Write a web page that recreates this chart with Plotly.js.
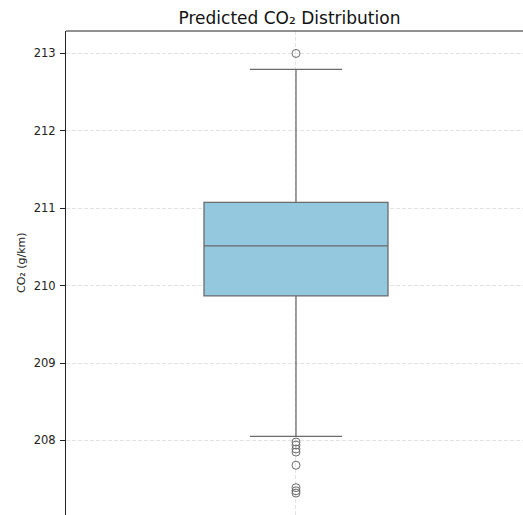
<!DOCTYPE html>
<html>
<head>
<meta charset="utf-8">
<script src="https://cdn.plot.ly/plotly-3.0.1.min.js"></script>
<style>html,body{margin:0;padding:0;background:#fff;}</style>
</head>
<body>
<div id="chart" style="width:523px;height:515px;"></div>
<script>
const categories = [0];
const q1 = [209.867];
const median = [210.513];
const q3 = [211.075];
const lowerFence = [208.052];
const upperFence = [212.795];
const outliers = [213.0, 207.98, 207.94, 207.89, 207.85, 207.68, 207.39, 207.35, 207.32];
const yTicks = [208, 209, 210, 211, 212, 213];

const boxTrace = {
  type: 'box',
  x: categories,
  q1: q1, median: median, q3: q3,
  lowerfence: lowerFence, upperfence: upperFence,
  width: 0.4,
  whiskerwidth: 0.5,
  fillcolor: '#93c8de',
  line: {color: '#6b6b6b', width: 1.3},
  boxpoints: false,
  hoverinfo: 'skip',
  showlegend: false
};
const outTrace = {
  type: 'scatter', mode: 'markers',
  x: outliers.map(() => categories[0]),
  y: outliers,
  marker: {symbol: 'circle-open', size: 8, color: '#6b6b6b', line: {width: 1}},
  showlegend: false, hoverinfo: 'skip'
};

const layout = {
  width: 523, height: 515,
  margin: {l: 66, r: 0, t: 31, b: 0, pad: 0},
  paper_bgcolor: '#fff', plot_bgcolor: '#fff',
  font: {family: 'DejaVu Sans', color: '#222', size: 11},
  title: {text: 'Predicted CO₂ Distribution', x: 0.5535, xanchor: 'center', y: 0.965, yanchor: 'middle',
          font: {family: 'DejaVu Sans', size: 17, color: '#111'}},
  xaxis: {range: [-0.5, 0.4935], showticklabels: false, ticks: '', zeroline: false,
          showgrid: true, tickvals: [0], gridcolor: '#dcdcdc', griddash: '4px,2px', gridwidth: 0.8,
          showline: false},
  yaxis: {range: [207.037, 213.29], tickvals: yTicks, ticktext: yTicks.map(String),
          ticks: 'outside', ticklen: 5, tickwidth: 1, tickcolor: '#222', ticklabelstandoff: 2,
          showline: true, linecolor: '#222', linewidth: 1, zeroline: false,
          showgrid: true, gridcolor: '#dcdcdc', griddash: '4px,2px', gridwidth: 0.8,
          tickfont: {family: 'DejaVu Sans', size: 11.5, color: '#222'}},
  annotations: [{text: 'CO₂ (g/km)', xref: 'paper', yref: 'paper', x: -0.0985, y: 0.5227,
                 xanchor: 'center', yanchor: 'middle', textangle: -90, showarrow: false,
                 font: {family: 'DejaVu Sans', size: 11, color: '#222'}}],
  shapes: [{type: 'line', xref: 'paper', yref: 'paper', x0: 0, x1: 1, y0: 1, y1: 1,
            line: {color: '#222', width: 1}}]
};
Plotly.newPlot('chart', [boxTrace, outTrace], layout, {displayModeBar: false, staticPlot: true});
</script>
</body>
</html>
